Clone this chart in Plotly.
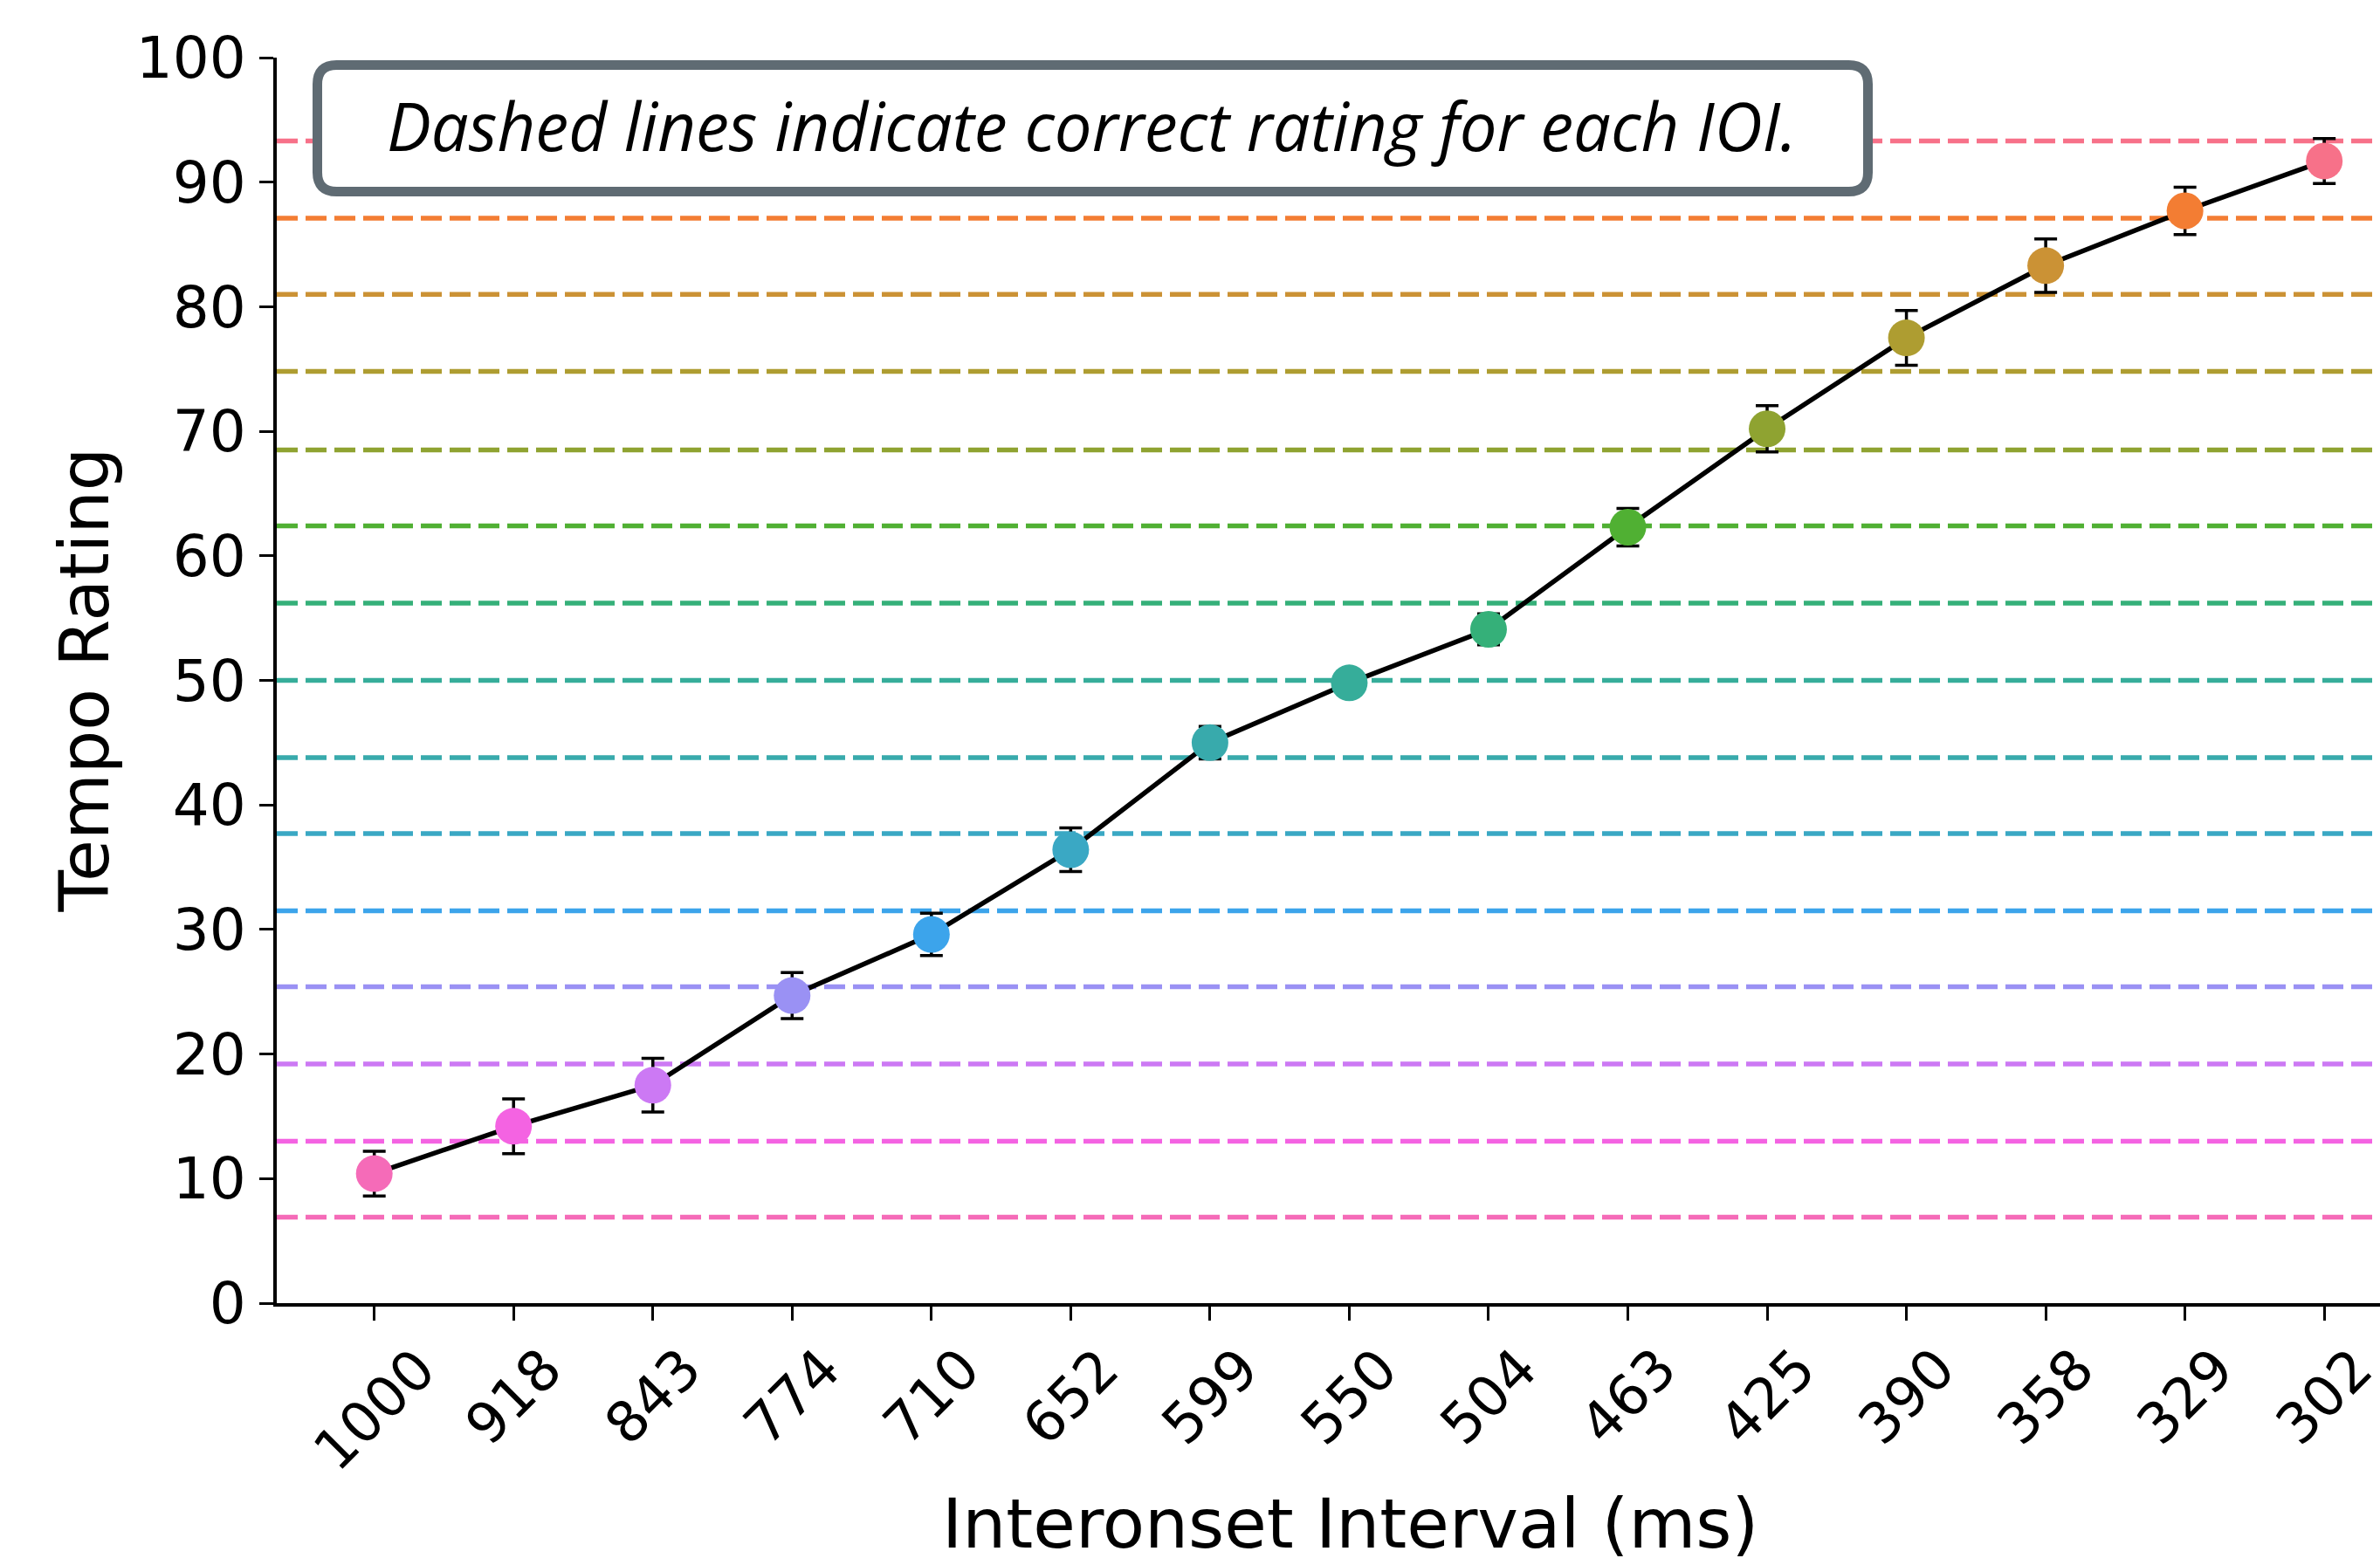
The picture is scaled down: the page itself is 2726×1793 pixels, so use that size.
import plotly.graph_objects as go

# ---- data ----
ioi_labels = ["1000", "918", "843", "774", "710", "652", "599", "550",
              "504", "463", "425", "390", "358", "329", "302"]
mean_rating = [10.4, 14.2, 17.5, 24.7, 29.6, 36.4, 45.0, 49.8,
               54.1, 62.3, 70.2, 77.5, 83.3, 87.7, 91.7]
rating_err = [1.8, 2.2, 2.15, 1.85, 1.7, 1.75, 1.3, 0.8,
              1.25, 1.5, 1.85, 2.2, 2.15, 1.9, 1.8]
correct_rating = [6.9, 13.0, 19.2, 25.4, 31.5, 37.7, 43.8, 50.0,
                  56.2, 62.4, 68.5, 74.8, 81.0, 87.1, 93.3]
palette = ["#f56bb8", "#f463e2", "#cc79f4", "#9a91f4", "#3ca4eb", "#3aa8c4",
           "#38aaac", "#36ad9a", "#35b079", "#50b033", "#8fa331", "#ae9d31",
           "#cb9235", "#f37d33", "#f77189"]
note_text = "Dashed lines indicate correct rating for each IOI."

x_idx = list(range(len(ioi_labels)))

W, H = 2726, 1793
ML, MR, MT, MB = 317, 0, 66, 300
PW, PH = W - ML - MR, H - MT - MB

fig = go.Figure()

# dashed correct-rating lines
for val, col in zip(correct_rating, palette):
    fig.add_shape(type="line", xref="paper", x0=0, x1=1, yref="y", y0=val, y1=val,
                  line=dict(color=col, width=5.5, dash="24px,9px"), layer="below")

# connecting line
fig.add_trace(go.Scatter(x=x_idx, y=mean_rating, mode="lines",
                         line=dict(color="black", width=5.5),
                         hoverinfo="skip", showlegend=False))
# markers with error bars
fig.add_trace(go.Scatter(x=x_idx, y=mean_rating, mode="markers",
                         marker=dict(size=42, color=palette, line=dict(width=0)),
                         error_y=dict(type="data", array=rating_err, visible=True,
                                      color="black", thickness=3.5, width=13),
                         showlegend=False))

# rounded note box (pixel-based rounded rect converted to paper coords)
bx0, bx1, by0, by1, r = 363.5, 2139.5, 74.5, 219.5, 22
def px(x):
    return (x - ML) / PW
def py(y):
    return (H - MB - y) / PH
path = (f"M {px(bx0 + r)},{py(by0)} L {px(bx1 - r)},{py(by0)} "
        f"Q {px(bx1)},{py(by0)} {px(bx1)},{py(by0 + r)} "
        f"L {px(bx1)},{py(by1 - r)} Q {px(bx1)},{py(by1)} {px(bx1 - r)},{py(by1)} "
        f"L {px(bx0 + r)},{py(by1)} Q {px(bx0)},{py(by1)} {px(bx0)},{py(by1 - r)} "
        f"L {px(bx0)},{py(by0 + r)} Q {px(bx0)},{py(by0)} {px(bx0 + r)},{py(by0)} Z")
fig.add_shape(type="path", xref="paper", yref="paper", path=path,
              fillcolor="white", line=dict(color="#5f6b73", width=11), layer="above")
fig.add_annotation(xref="paper", yref="paper", x=px(1250), y=py(143.5),
                   xanchor="center", yanchor="middle", showarrow=False,
                   text=f"<i>{note_text}</i>",
                   font=dict(family="Open Sans", size=76, color="black"))

# rotated x tick labels (centered under ticks like matplotlib)
for xi, lab in zip(x_idx, ioi_labels):
    fig.add_annotation(xref="x", yref="paper", x=xi, y=py(1528),
                       xanchor="center", yanchor="top", showarrow=False,
                       text=lab, textangle=-45,
                       font=dict(family="DejaVu Sans", size=64, color="black"))

# axis titles
fig.add_annotation(xref="paper", yref="paper", x=px(1546), y=py(1746),
                   xanchor="center", yanchor="middle", showarrow=False,
                   text="Interonset Interval (ms)",
                   font=dict(family="DejaVu Sans", size=79, color="black"))
fig.add_annotation(xref="paper", yref="paper", x=px(96), y=0.5,
                   xanchor="center", yanchor="middle", showarrow=False,
                   text="Tempo Rating", textangle=-90,
                   font=dict(family="DejaVu Sans", size=78, color="black"))

fig.update_layout(
    width=W, height=H,
    margin=dict(l=ML, r=MR, t=MT, b=MB, pad=0),
    paper_bgcolor="white", plot_bgcolor="white",
    font=dict(family="DejaVu Sans", size=64, color="black"),
    xaxis=dict(range=[-0.7, 14.4], tickmode="array", tickvals=x_idx,
               showticklabels=False, ticks="outside", ticklen=16, tickwidth=3,
               tickcolor="black", showline=True, linecolor="black", linewidth=4,
               showgrid=False, zeroline=False),
    yaxis=dict(range=[0, 100], tickmode="array", tickvals=list(range(0, 101, 10)),
               ticks="outside", ticklen=16, tickwidth=3, tickcolor="black",
               showline=True, linecolor="black", linewidth=4,
               showgrid=False, zeroline=False, ticklabelstandoff=2,
               tickfont=dict(family="DejaVu Sans", size=66, color="black")),
)

fig.write_html("out.html")
